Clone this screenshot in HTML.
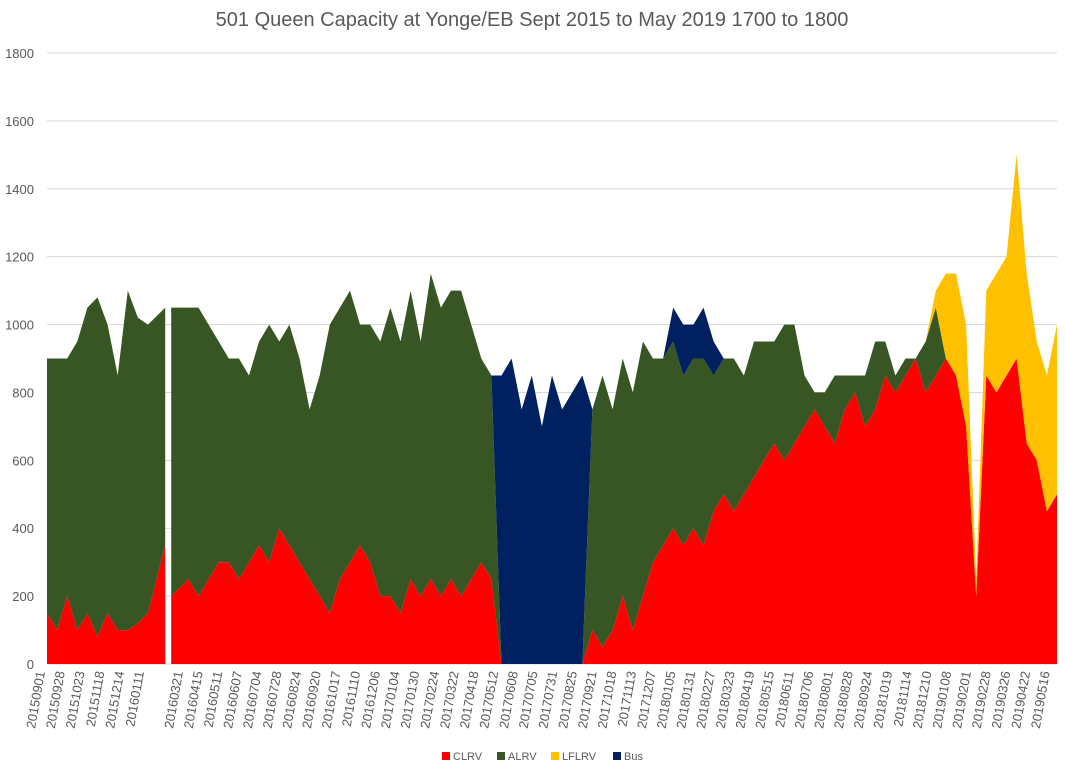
<!DOCTYPE html>
<html><head><meta charset="utf-8">
<style>
body{margin:0;background:#fff;}
svg{display:block;font-family:"Liberation Sans",sans-serif;}
</style></head>
<body>
<svg id="chart" width="1065" height="772" xmlns="http://www.w3.org/2000/svg">
<text x="532" y="26" text-anchor="middle" font-size="20" fill="#595959">501 Queen Capacity at Yonge/EB Sept 2015 to May 2019 1700 to 1800</text>
<g id="grid"></g><g id="areas"></g><g id="yticks"></g><g id="xticks"></g>
<g>
<rect x="442" y="752" width="8" height="8" fill="#ff0000"/><text x="453" y="760" font-size="11" fill="#595959">CLRV</text>
<rect x="497" y="752" width="8" height="8" fill="#375623"/><text x="508" y="760" font-size="11" fill="#595959">ALRV</text>
<rect x="551" y="752" width="8" height="8" fill="#ffc000"/><text x="562" y="760" font-size="11" fill="#595959">LFLRV</text>
<rect x="613" y="752" width="8" height="8" fill="#002060"/><text x="624" y="760" font-size="11" fill="#595959">Bus</text>
</g>
</svg>
<script>
const xLabels=["20150901","20150928","20151023","20151118","20151214","20160111","20160321","20160415","20160511","20160607","20160704","20160728","20160824","20160920","20161017","20161110","20161206","20170104","20170130","20170224","20170322","20170418","20170512","20170608","20170705","20170731","20170825","20170921","20171018","20171113","20171207","20180105","20180131","20180227","20180323","20180419","20180515","20180611","20180706","20180801","20180828","20180924","20181019","20181114","20181210","20190108","20190201","20190228","20190326","20190422","20190516"];
const yTicks=[0,200,400,600,800,1000,1200,1400,1600,1800];
const clrv=[150,100,200,100,150,80,150,100,100,120,150,350,null,200,250,200,250,300,300,250,300,350,300,400,350,300,250,200,150,250,300,350,300,200,200,150,250,200,250,200,250,200,250,300,250,0,0,0,0,0,0,0,0,0,100,50,100,200,100,200,300,350,400,350,400,350,450,500,450,500,550,600,650,600,650,700,750,700,650,750,800,700,750,850,800,850,900,800,850,900,850,700,200,850,800,850,900,650,600,450,500];
const alrv=[750,800,700,850,900,1000,850,750,1000,900,850,700,null,850,800,850,750,650,600,650,550,600,700,550,650,600,500,650,850,800,800,650,700,750,850,800,850,750,900,850,850,900,750,600,600,0,0,0,0,0,0,0,0,0,650,800,650,700,700,750,600,550,550,500,500,550,400,400,450,350,400,350,300,400,350,150,50,100,200,100,50,150,200,100,50,50,0,150,200,0,0,0,0,0,0,0,0,0,0,0,0];
const lflrv=[0,0,0,0,0,0,0,0,0,0,0,0,null,0,0,0,0,0,0,0,0,0,0,0,0,0,0,0,0,0,0,0,0,0,0,0,0,0,0,0,0,0,0,0,0,0,0,0,0,0,0,0,0,0,0,0,0,0,0,0,0,0,0,0,0,0,0,0,0,0,0,0,0,0,0,0,0,0,0,0,0,0,0,0,0,0,0,0,50,250,300,300,50,250,350,350,600,500,350,400,500];
const bus=[0,0,0,0,0,0,0,0,0,0,0,0,null,0,0,0,0,0,0,0,0,0,0,0,0,0,0,0,0,0,0,0,0,0,0,0,0,0,0,0,0,0,0,0,0,850,900,750,850,700,850,750,800,850,0,0,0,0,0,0,0,0,100,150,100,150,100,0,0,0,0,0,0,0,0,0,0,0,0,0,0,0,0,0,0,0,0,0,0,0,0,0,0,0,0,0,0,0,0,0,0];
const NS="http://www.w3.org/2000/svg";
const X0=47,X1=1057,Y0=664,Y1=53,YMAX=1800;
const n=clrv.length;
const step=(X1-X0)/(n-1);
function xs(i){return X0+i*step;}
function ys(v){return Y0-(v/YMAX)*(Y0-Y1);}
function mk(tag,attrs,parent){const e=document.createElementNS(NS,tag);for(const k in attrs)e.setAttribute(k,attrs[k]);parent.appendChild(e);return e;}
const grid=document.getElementById('grid'),yt=document.getElementById('yticks'),xt=document.getElementById('xticks'),areas=document.getElementById('areas');
yTicks.forEach(v=>{
 const l=mk('line',{x1:X0,x2:X1,y1:ys(v),y2:ys(v),stroke:'#d9d9d9','stroke-width':1},grid);
 
 
 const t=mk('text',{x:34,y:ys(v)+5,'text-anchor':'end','font-size':13,fill:'#595959'},yt);
 t.textContent=v;
 
 
});
// stacked series order bottom->top
const series=[["clrv",clrv,"#ff0000"],["alrv",alrv,"#375623"],["lflrv",lflrv,"#ffc000"],["bus",bus,"#002060"]];
// split into contiguous segments
const segs=[];let cur=[];
for(let i=0;i<n;i++){if(clrv[i]===null){if(cur.length)segs.push(cur);cur=[];}else cur.push(i);}
if(cur.length)segs.push(cur);
const ext=step*0.7;
segs.forEach((seg,si)=>{
 const base=seg.map(()=>0);
 series.forEach(([name,arr,col])=>{
  const top=seg.map((i,k)=>base[k]+arr[i]);
  const pts=[];
  const xa=seg.map(i=>xs(i));
  xa[0]=Math.max(X0,xa[0]-(si>0?ext:0));
  xa[xa.length-1]=Math.min(X1,xa[xa.length-1]+(si<segs.length-1?ext:0));
  seg.forEach((i,k)=>pts.push(xa[k].toFixed(1)+','+ys(top[k]).toFixed(1)));
  for(let k=seg.length-1;k>=0;k--)pts.push(xa[k].toFixed(1)+','+ys(base[k]).toFixed(1));
  const p=mk('polygon',{points:pts.join(' '),fill:col},areas);
  
  
  seg.forEach((i,k)=>base[k]=top[k]);
 });
});
mk('line',{x1:X0,x2:X1,y1:Y0,y2:Y0,stroke:'#d9d9d9'},grid);
xLabels.forEach((lab,k)=>{
 const x=k<=5?40+19.8*k:178+19.7*(k-6);
 const t=mk('text',{x:0,y:0,'text-anchor':'end','font-size':13,fill:'#595959',transform:'translate('+(x+5)+',672) rotate(-80)'},xt);
 t.textContent=lab;
 
 
});
</script>
</body></html>
